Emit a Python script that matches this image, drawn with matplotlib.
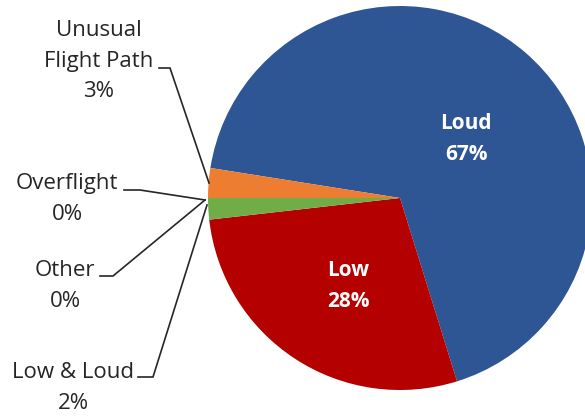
import matplotlib
matplotlib.use("Agg")
import matplotlib.pyplot as plt

# ---- data ----
labels = ["Loud", "Low", "Low & Loud", "Other", "Overflight", "Unusual\nFlight Path"]
values = [67.7, 28.0, 1.8, 0.0, 0.0, 2.5]
pct_text = ["67%", "28%", "2%", "0%", "0%", "3%"]
colors = ["#2E5594", "#B50000", "#70AD47", "#A5A5A5", "#FFC000", "#ED7D31"]

W, H = 585, 416
CX, CY, R = 400, 198, 192

plt.rcParams['font.family'] = ['Open Sans', 'DejaVu Sans']

fig = plt.figure(figsize=(W / 100, H / 100), dpi=100)
ax = fig.add_axes([0, 0, 1, 1])

def px(x, y):
    # pixel position -> data coords (pie radius = 1)
    return (x - CX) / R, (CY - y) / R

ax.pie(values, colors=colors, startangle=171, counterclock=False,
       radius=1, wedgeprops=dict(linewidth=0))

ax.set_xlim(px(0, 0)[0], px(W, 0)[0])
ax.set_ylim(px(0, H)[1], px(0, 0)[1])
ax.set_aspect('equal')
ax.axis('off')

# labels inside slices
ax.text(*px(466, 139), labels[0] + "\n" + pct_text[0], color="white", fontsize=15,
        fontweight="bold", ha="center", va="center", linespacing=1.6)
ax.text(*px(348, 286), labels[1] + "\n" + pct_text[1], color="white", fontsize=15,
        fontweight="bold", ha="center", va="center", linespacing=1.6)

# outside labels with leader lines: (label idx, text center, line start, elbow, pie point)
outside = [
    (5, (99, 61), [(159, 68), (170, 68), (209, 183)]),
    (4, (67, 199), [(124, 190), (140, 190), (205, 200)]),
    (3, (65, 286), [(100, 276), (113, 276), (205, 200)]),
    (2, (73, 388), [(138, 377), (153, 377), (207, 205)]),
]
for i, (tx, ty), pts in outside:
    ax.text(*px(tx, ty), labels[i] + "\n" + pct_text[i], color="#262626", fontsize=16,
            ha="center", va="center", linespacing=1.6)
    xs = [px(x, y)[0] for x, y in pts]
    ys = [px(x, y)[1] for x, y in pts]
    ax.plot(xs, ys, color="#262626", lw=1.2, solid_joinstyle="miter")

fig.savefig("out.png", dpi=100)
